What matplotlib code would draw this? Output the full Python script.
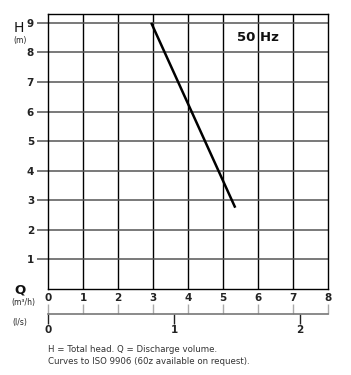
import matplotlib.pyplot as plt
import numpy as np

# curve data (Q in m3/h, H in m)
q_m3h = [2.95, 5.35]
head_m = [9.0, 2.75]

q_ticks = [0, 1, 2, 3, 4, 5, 6, 7, 8]
ls_ticks = [0, 1, 2]
h_ticks = [1, 2, 3, 4, 5, 6, 7, 8, 9]

W, H = 351, 375
fig = plt.figure(figsize=(W / 100, H / 100), dpi=100)

left, right = 48 / W, 328 / W
top, bottom = 1 - 14 / H, 1 - 289 / H
ax = fig.add_axes([left, bottom, right - left, top - bottom])

ax.plot(q_m3h, head_m, color='black', linewidth=1.8, solid_capstyle='butt')

ax.set_xlim(0, 8)
ax.set_ylim(0, 9.3)
for x in range(1, 8):
    ax.axvline(x, color='black', linewidth=1.0, zorder=0)
for y in h_ticks:
    ax.axhline(y, color='#555555', linewidth=1.1, zorder=0)
ax.set_xticks([])
ax.set_yticks(h_ticks)
ax.tick_params(axis='y', length=8, width=1.1, color='#555555', pad=2,
               labelsize=7.5, labelcolor='#222222')
for lbl in ax.get_yticklabels():
    lbl.set_fontweight('bold')
for s in ax.spines.values():
    s.set_color('black')
    s.set_linewidth(1.0)

ax.text(0.75, 0.915, '50 Hz', transform=ax.transAxes, ha='center', va='center',
        fontsize=9.5, fontweight='bold', color='#111111')

# Q scales below the plot
ly = 1 - 314 / H
ax2 = fig.add_axes([left, ly, right - left, 0.0001])
ax2.set_xlim(0, 8)
ax2.set_yticks([])
for name in ['left', 'right', 'bottom']:
    ax2.spines[name].set_visible(False)
ax2.spines['top'].set_color('#777777')
ax2.spines['top'].set_linewidth(1.2)
ax2.xaxis.set_ticks_position('top')
ax2.xaxis.set_label_position('top')
ax2.set_xticks(q_ticks)
ax2.tick_params(axis='x', direction='out', length=7, width=1.0, color='#aaaaaa',
                pad=1, labelsize=7.5, labelcolor='#222222')
for lbl in ax2.get_xticklabels():
    lbl.set_fontweight('bold')

sec = ax2.secondary_xaxis('bottom', functions=(lambda x: x / 3.6, lambda x: x * 3.6))
sec.set_xticks(ls_ticks)
sec.spines['bottom'].set_visible(False)
sec.tick_params(axis='x', direction='out', length=7, width=1.0, color='#222222',
                pad=1, labelsize=7.5, labelcolor='#222222')
for lbl in sec.get_xticklabels():
    lbl.set_fontweight('bold')

# axis captions
fig.text(14 / W, 1 - 28 / H, 'H', fontsize=10, color='#111111', va='center')
fig.text(13 / W, 1 - 40 / H, '(m)', fontsize=5.5, color='#222222', va='center')
fig.text(14 / W, 1 - 290 / H, 'Q', fontsize=9.5, fontweight='bold', color='#111111', va='center')
fig.text(11 / W, 1 - 302 / H, '(m³/h)', fontsize=5.5, color='#222222', va='center')
fig.text(12 / W, 1 - 323 / H, '(l/s)', fontsize=5.5, color='#222222', va='center')

fig.text(48 / W, 1 - 350 / H, 'H = Total head. Q = Discharge volume.',
         fontsize=6.2, color='#333333', va='center')
fig.text(48 / W, 1 - 362 / H, 'Curves to ISO 9906 (60z available on request).',
         fontsize=6.2, color='#333333', va='center')

fig.savefig('out.png', dpi=100)
